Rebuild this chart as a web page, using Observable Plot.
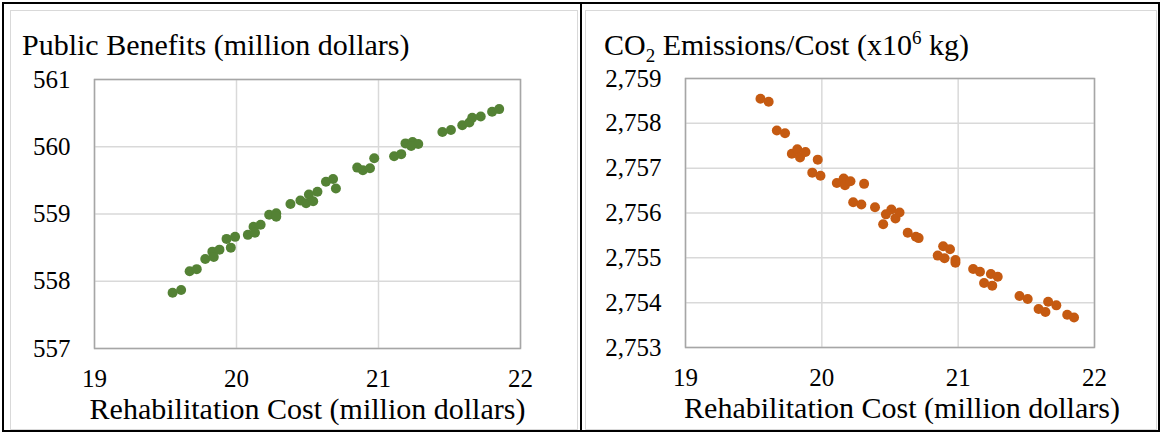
<!DOCTYPE html>
<html>
<head>
<meta charset="utf-8">
<script src="https://cdn.jsdelivr.net/npm/d3@7"></script>
<script src="https://cdn.jsdelivr.net/npm/@observablehq/plot@0.6"></script>
<style>
  html, body { margin: 0; padding: 0; background: #fff; }
  #wrap { position: relative; width: 1160px; height: 432px; overflow: hidden; font-family: "Liberation Serif", "Times New Roman", serif; }
  .outer { position: absolute; left: 2px; top: 2px; width: 1154px; height: 426px; border: 2px solid #000; }
  .divider { position: absolute; left: 580px; top: 2px; width: 2px; height: 428px; background: #000; }
  .area { position: absolute; border: 1px solid #d9d9d9; }
  .panel { position: absolute; top: 0; width: 580px; height: 432px; }
  .title { position: absolute; top: 30px; font-size: 30px; line-height: 30px; white-space: nowrap; color: #000; }
  .title sub { font-size: 19px; vertical-align: 0; position: relative; top: 7px; line-height: 0; }
  .title sup { font-size: 19px; vertical-align: 0; position: relative; top: -11px; line-height: 0; }
  .panel svg { position: absolute; left: 0; top: 0; }
</style>
</head>
<body>
<div id="wrap">
  <div class="area" style="left:10px;top:10px;width:566px;height:418px;"></div>
  <div class="area" style="left:585px;top:10px;width:570px;height:418px;"></div>
  <div class="outer"></div>
  <div class="divider"></div>
  <div class="panel" id="left" style="left:0px;">
    <div class="title" style="left:22px;">Public Benefits (million dollars)</div>
  </div>
  <div class="panel" id="right" style="left:580px;">
    <div class="title" style="left:24px;">CO<sub>2</sub> Emissions/Cost (x10<sup>6</sup> kg)</div>
  </div>
</div>
<script>
// ---- data ----
const xLabel = "Rehabilitation Cost (million dollars)";
const xTicks = [19, 20, 21, 22];

const benefitsCost = [19.55,19.61,19.67,19.72,19.78,19.83,19.84,19.88,19.93,19.99,19.96,20.08,20.12,20.13,20.17,20.23,20.28,20.28,20.38,20.45,20.49,20.51,20.54,20.57,20.63,20.68,20.70,20.85,20.89,20.94,20.97,21.11,21.16,21.19,21.24,21.28,21.23,21.45,21.51,21.59,21.64,21.66,21.72,21.80,21.85];
const benefitsValue = [557.83,557.87,558.15,558.18,558.33,558.44,558.36,558.47,558.63,558.66,558.50,558.69,558.81,558.72,558.84,558.99,559.01,558.96,559.15,559.20,559.16,559.29,559.19,559.33,559.48,559.52,559.38,559.69,559.65,559.68,559.83,559.86,559.89,560.05,560.07,560.04,560.01,560.22,560.25,560.32,560.36,560.43,560.45,560.52,560.56];
const benefitsTicks = [557, 558, 559, 560, 561];

const co2Cost = [19.55,19.61,19.67,19.73,19.78,19.82,19.84,19.88,19.97,19.93,19.99,20.11,20.16,20.17,20.21,20.31,20.23,20.29,20.39,20.47,20.51,20.54,20.57,20.45,20.63,20.69,20.71,20.85,20.89,20.90,20.94,20.98,20.98,21.11,21.16,21.24,21.19,21.25,21.29,21.45,21.51,21.59,21.64,21.66,21.72,21.80,21.85];
const co2Value = [2758.55,2758.48,2757.84,2757.78,2757.32,2757.42,2757.24,2757.36,2757.19,2756.90,2756.83,2756.67,2756.77,2756.62,2756.71,2756.65,2756.24,2756.19,2756.13,2755.97,2756.08,2755.88,2756.01,2755.75,2755.56,2755.47,2755.44,2755.05,2755.26,2754.99,2755.19,2754.95,2754.89,2754.75,2754.69,2754.64,2754.44,2754.38,2754.58,2754.15,2754.08,2753.86,2753.79,2754.02,2753.94,2753.73,2753.67];
const co2Ticks = [2753, 2754, 2755, 2756, 2757, 2758, 2759];

function panel(xs, ys, yTicks, color, m, labelDx) {
  const data = xs.map((x, i) => ({x, y: ys[i]}));
  return Plot.plot({
    width: 580,
    height: 432,
    marginLeft: m.left, marginRight: m.right, marginTop: m.top, marginBottom: m.bottom,
    style: {fontFamily: "'Liberation Serif', 'Times New Roman', serif", fontSize: "25px", color: "#000", background: "transparent", overflow: "visible"},
    x: {domain: [19, 22]},
    y: {domain: [yTicks[0], yTicks[yTicks.length - 1]]},
    marks: [
      Plot.gridX(xTicks, {stroke: "#d9d9d9", strokeOpacity: 1, strokeWidth: 1.5}),
      Plot.gridY(yTicks, {stroke: "#d9d9d9", strokeOpacity: 1, strokeWidth: 1.5}),
      Plot.frame({stroke: "#a6a6a6", strokeWidth: 1.5}),
      Plot.axisX(xTicks, {tickSize: 0, tickPadding: 21, label: null, fontSize: 25, tickFormat: d3.format("d")}),
      Plot.axisY(yTicks, {tickSize: 0, tickPadding: 24, label: null, fontSize: 25, tickFormat: d3.format(",d")}),
      Plot.text([xLabel], {frameAnchor: "bottom", dy: 70, dx: labelDx, text: d => d, fontSize: 30, fill: "#000"}),
      Plot.dot(data, {x: "x", y: "y", r: 5, fill: color, stroke: null})
    ]
  });
}

document.getElementById("left").appendChild(
  panel(benefitsCost, benefitsValue, benefitsTicks, "#548235", {left: 94, right: 60, top: 79, bottom: 84}, 0)
);
document.getElementById("right").appendChild(
  panel(co2Cost, co2Value, co2Ticks, "#c55a11", {left: 105, right: 66, top: 78, bottom: 85}, 12)
);
</script>
</body>
</html>
